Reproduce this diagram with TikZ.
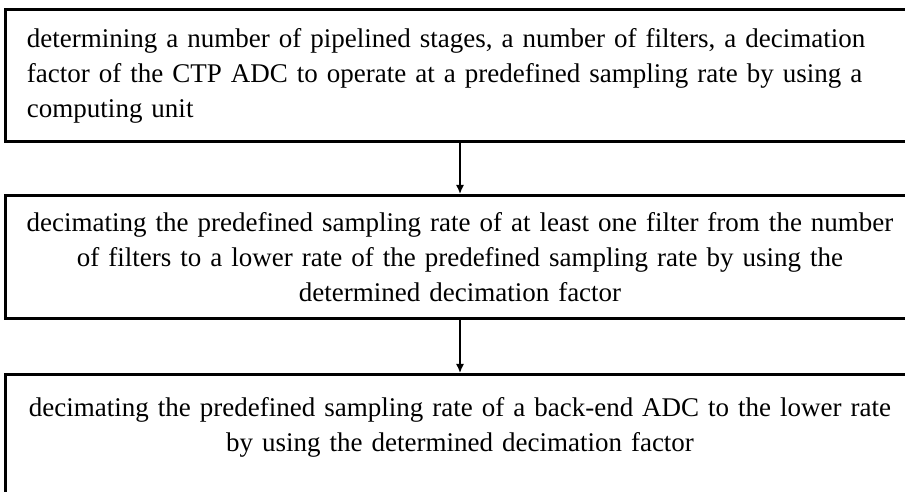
\documentclass[tikz,border=0pt]{standalone}
\usepackage{fontspec}
\setmainfont{Liberation Serif}
\usetikzlibrary{arrows.meta}
\tikzstyle{stepbox}=[draw,line width=3pt,rectangle,anchor=north,text width=880pt,inner xsep=15pt,inner ysep=0pt,font=\fontsize{27}{35}\selectfont]
\tikzstyle{flowline}=[line width=1.5pt,-{Latex[length=9pt,width=8pt]}]

\begin{document}
\begin{tikzpicture}[x=1pt,y=1pt]
    \useasboundingbox (0,0) rectangle (905,492);
    \node[stepbox,align=left,text width=866pt,inner xsep=22pt,minimum height=132pt] (n1) at (460,484) {determining a number of pipelined stages, a number of filters, a decimation\\ factor of the CTP ADC to operate at a predefined sampling rate by using a\\ computing unit};
    \node[stepbox,align=center,minimum height=123pt] (n2) at (460,298) {decimating the predefined sampling rate of at least one filter from the number\\ of filters to a lower rate of the predefined sampling rate by using the\\ determined decimation factor};
    \node[stepbox,align=center,minimum height=145pt] (n3) at (460,119) {decimating the predefined sampling rate of a back-end ADC to the lower rate\\ by using the determined decimation factor\\ \strut};

    \foreach \from/\to in {n1/n2,n2/n3}
    \draw[flowline] (\from) -- (\to);
\end{tikzpicture}
\end{document}
